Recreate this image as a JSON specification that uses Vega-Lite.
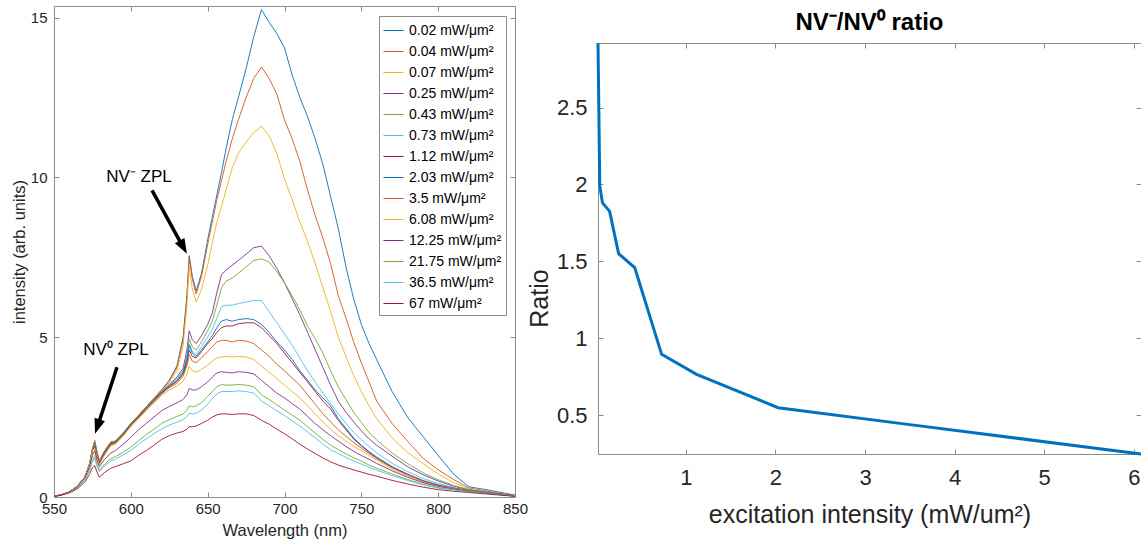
{
"$schema": "https://vega.github.io/schema/vega-lite/v6.json",
"background": "white",
"padding": {"left": 10, "top": 5, "right": 0, "bottom": 0},
"spacing": -2,
"config": {
 "font": "Liberation Sans",
 "view": {"stroke": "#8c8c8c", "strokeWidth": 1},
 "axis": {"grid": false, "domain": false, "domainColor": "#8c8c8c", "tickColor": "#8c8c8c", "tickSize": -5, "tickWidth": 1, "labelColor": "#262626", "titleColor": "#262626", "titleFontWeight": "normal", "labelFlush": false, "labelOverlap": false, "format": "~g"}
},
"hconcat": [
{
 "width": 461, "height": 491,
 "resolve": {"axis": {"x": "independent", "y": "independent"}},
 "layer": [
 {
  "data": {"values": [
{"w":550,"a":0.02,"b":0.02,"c":0.02,"d":0.02,"e":0.02,"f":0.02,"g":0.02,"h":0.02,"i":0.02,"j":0.02,"k":0.02,"l":0.02,"m":0.02,"n":0.02},
{"w":555,"a":0.07,"b":0.07,"c":0.07,"d":0.07,"e":0.07,"f":0.07,"g":0.07,"h":0.07,"i":0.07,"j":0.07,"k":0.07,"l":0.06,"m":0.06,"n":0.06},
{"w":560,"a":0.16,"b":0.16,"c":0.16,"d":0.16,"e":0.16,"f":0.16,"g":0.16,"h":0.16,"i":0.16,"j":0.16,"k":0.15,"l":0.14,"m":0.14,"n":0.13},
{"w":565,"a":0.33,"b":0.33,"c":0.33,"d":0.33,"e":0.33,"f":0.33,"g":0.33,"h":0.33,"i":0.33,"j":0.33,"k":0.31,"l":0.29,"m":0.28,"n":0.25},
{"w":570,"a":0.62,"b":0.62,"c":0.62,"d":0.62,"e":0.62,"f":0.62,"g":0.62,"h":0.62,"i":0.62,"j":0.62,"k":0.58,"l":0.54,"m":0.52,"n":0.46},
{"w":573,"a":1.0,"b":1.0,"c":1.0,"d":1.0,"e":1.0,"f":1.0,"g":1.0,"h":1.0,"i":1.0,"j":1.0,"k":0.93,"l":0.85,"m":0.82,"n":0.7},
{"w":575,"a":1.5,"b":1.5,"c":1.5,"d":1.45,"e":1.45,"f":1.45,"g":1.45,"h":1.45,"i":1.45,"j":1.45,"k":1.3,"l":1.15,"m":1.1,"n":0.92},
{"w":576.5,"a":1.76,"b":1.76,"c":1.74,"d":1.7,"e":1.66,"f":1.62,"g":1.6,"h":1.62,"i":1.58,"j":1.52,"k":1.45,"l":1.3,"m":1.2,"n":0.98},
{"w":578,"a":1.4,"b":1.4,"c":1.38,"d":1.35,"e":1.32,"f":1.3,"g":1.28,"h":1.3,"i":1.26,"j":1.22,"k":1.15,"l":1.02,"m":0.96,"n":0.78},
{"w":579.5,"a":1.13,"b":1.13,"c":1.12,"d":1.1,"e":1.08,"f":1.06,"g":1.05,"h":1.06,"i":1.03,"j":1.0,"k":0.95,"l":0.84,"m":0.79,"n":0.62},
{"w":583,"a":1.45,"b":1.45,"c":1.44,"d":1.42,"e":1.4,"f":1.38,"g":1.37,"h":1.38,"i":1.35,"j":1.32,"k":1.18,"l":1.03,"m":0.98,"n":0.77},
{"w":587,"a":1.72,"b":1.72,"c":1.7,"d":1.7,"e":1.68,"f":1.66,"g":1.65,"h":1.66,"i":1.63,"j":1.6,"k":1.38,"l":1.2,"m":1.13,"n":0.9},
{"w":590,"a":1.75,"b":1.75,"c":1.74,"d":1.73,"e":1.72,"f":1.7,"g":1.7,"h":1.7,"i":1.68,"j":1.65,"k":1.45,"l":1.26,"m":1.18,"n":0.95},
{"w":595,"a":2.0,"b":2.0,"c":1.98,"d":1.98,"e":1.97,"f":1.95,"g":1.95,"h":1.95,"i":1.93,"j":1.9,"k":1.65,"l":1.4,"m":1.32,"n":1.04},
{"w":600,"a":2.3,"b":2.3,"c":2.28,"d":2.28,"e":2.27,"f":2.26,"g":2.25,"h":2.25,"i":2.23,"j":2.2,"k":1.87,"l":1.56,"m":1.46,"n":1.13},
{"w":605,"a":2.55,"b":2.55,"c":2.53,"d":2.53,"e":2.52,"f":2.5,"g":2.5,"h":2.5,"i":2.48,"j":2.44,"k":2.1,"l":1.76,"m":1.65,"n":1.3},
{"w":610,"a":2.82,"b":2.82,"c":2.8,"d":2.8,"e":2.78,"f":2.77,"g":2.76,"h":2.76,"i":2.74,"j":2.7,"k":2.3,"l":1.95,"m":1.82,"n":1.45},
{"w":615,"a":3.08,"b":3.08,"c":3.06,"d":3.05,"e":3.04,"f":3.02,"g":3.01,"h":3.02,"i":2.98,"j":2.94,"k":2.5,"l":2.12,"m":1.98,"n":1.62},
{"w":620,"a":3.35,"b":3.35,"c":3.32,"d":3.3,"e":3.28,"f":3.26,"g":3.25,"h":3.26,"i":3.22,"j":3.17,"k":2.7,"l":2.3,"m":2.13,"n":1.8},
{"w":625,"a":3.65,"b":3.63,"c":3.58,"d":3.52,"e":3.5,"f":3.47,"g":3.45,"h":3.47,"i":3.42,"j":3.35,"k":2.83,"l":2.42,"m":2.25,"n":1.92},
{"w":630,"a":4.1,"b":4.05,"c":3.95,"d":3.75,"e":3.7,"f":3.66,"g":3.62,"h":3.63,"i":3.56,"j":3.47,"k":2.95,"l":2.52,"m":2.34,"n":2.0},
{"w":634,"a":5.0,"b":4.92,"c":4.72,"d":4.02,"e":3.95,"f":3.9,"g":3.84,"h":3.88,"i":3.78,"j":3.62,"k":3.05,"l":2.6,"m":2.42,"n":2.05},
{"w":636.5,"a":6.3,"b":6.25,"c":6.0,"d":4.6,"e":4.42,"f":4.32,"g":4.2,"h":4.3,"i":4.1,"j":3.85,"k":3.2,"l":2.72,"m":2.52,"n":2.12},
{"w":638,"a":7.55,"b":7.5,"c":7.2,"d":5.2,"e":4.95,"f":4.8,"g":4.6,"h":4.75,"i":4.45,"j":4.1,"k":3.4,"l":2.85,"m":2.62,"n":2.2},
{"w":640,"a":6.9,"b":6.82,"c":6.5,"d":4.92,"e":4.7,"f":4.56,"g":4.4,"h":4.5,"i":4.25,"j":3.95,"k":3.35,"l":2.82,"m":2.6,"n":2.2},
{"w":642.5,"a":6.45,"b":6.35,"c":6.1,"d":4.8,"e":4.6,"f":4.46,"g":4.35,"h":4.4,"i":4.2,"j":3.9,"k":3.35,"l":2.85,"m":2.62,"n":2.22},
{"w":646,"a":7.0,"b":6.9,"c":6.5,"d":5.05,"e":4.85,"f":4.7,"g":4.55,"h":4.6,"i":4.35,"j":4.0,"k":3.45,"l":2.95,"m":2.72,"n":2.3},
{"w":650,"a":8.05,"b":7.9,"c":7.25,"d":5.4,"e":5.2,"f":5.0,"g":4.8,"h":4.85,"i":4.55,"j":4.12,"k":3.6,"l":3.15,"m":2.9,"n":2.4},
{"w":653,"a":8.75,"b":8.6,"c":7.95,"d":5.75,"e":5.5,"f":5.25,"g":4.95,"h":5.05,"i":4.7,"j":4.25,"k":3.75,"l":3.3,"m":3.08,"n":2.5},
{"w":656,"a":9.45,"b":9.3,"c":8.6,"d":6.4,"e":6.0,"f":5.6,"g":5.15,"h":5.3,"i":4.85,"j":4.35,"k":3.88,"l":3.45,"m":3.22,"n":2.57},
{"w":659,"a":10.15,"b":9.9,"c":9.1,"d":6.95,"e":6.55,"f":5.95,"g":5.3,"h":5.5,"i":4.9,"j":4.38,"k":3.92,"l":3.52,"m":3.3,"n":2.6},
{"w":662,"a":10.9,"b":10.5,"c":9.6,"d":7.1,"e":6.75,"f":6.0,"g":5.35,"h":5.55,"i":4.9,"j":4.4,"k":3.9,"l":3.5,"m":3.3,"n":2.6},
{"w":666,"a":11.8,"b":11.2,"c":10.3,"d":7.25,"e":6.85,"f":6.0,"g":5.35,"h":5.5,"i":4.85,"j":4.38,"k":3.88,"l":3.5,"m":3.3,"n":2.58},
{"w":670,"a":12.5,"b":11.8,"c":10.75,"d":7.4,"e":7.0,"f":6.05,"g":5.42,"h":5.55,"i":4.9,"j":4.4,"k":3.92,"l":3.52,"m":3.32,"n":2.6},
{"w":675,"a":13.4,"b":12.5,"c":11.1,"d":7.6,"e":7.2,"f":6.1,"g":5.45,"h":5.58,"i":4.88,"j":4.38,"k":3.9,"l":3.5,"m":3.3,"n":2.6},
{"w":680,"a":14.4,"b":13.1,"c":11.4,"d":7.8,"e":7.4,"f":6.15,"g":5.45,"h":5.55,"i":4.8,"j":4.3,"k":3.85,"l":3.45,"m":3.25,"n":2.55},
{"w":685,"a":15.25,"b":13.45,"c":11.6,"d":7.85,"e":7.45,"f":6.15,"g":5.3,"h":5.4,"i":4.6,"j":4.1,"k":3.65,"l":3.2,"m":3.0,"n":2.4},
{"w":690,"a":14.85,"b":13.1,"c":11.3,"d":7.55,"e":7.35,"f":5.8,"g":5.05,"h":5.15,"i":4.4,"j":3.9,"k":3.45,"l":3.05,"m":2.85,"n":2.28},
{"w":695,"a":14.5,"b":12.6,"c":10.75,"d":7.15,"e":7.05,"f":5.45,"g":4.8,"h":4.85,"i":4.15,"j":3.7,"k":3.25,"l":2.88,"m":2.7,"n":2.12},
{"w":700,"a":14.05,"b":11.8,"c":9.95,"d":6.7,"e":6.7,"f":5.1,"g":4.5,"h":4.6,"i":3.95,"j":3.5,"k":3.1,"l":2.72,"m":2.55,"n":1.98},
{"w":705,"a":13.2,"b":11.2,"c":9.3,"d":6.2,"e":6.3,"f":4.75,"g":4.2,"h":4.3,"i":3.72,"j":3.3,"k":2.92,"l":2.56,"m":2.38,"n":1.82},
{"w":710,"a":12.5,"b":10.5,"c":8.6,"d":5.7,"e":5.85,"f":4.35,"g":3.9,"h":3.95,"i":3.5,"j":3.1,"k":2.75,"l":2.4,"m":2.22,"n":1.65},
{"w":715,"a":11.9,"b":9.6,"c":8.0,"d":5.15,"e":5.35,"f":3.95,"g":3.6,"h":3.65,"i":3.2,"j":2.85,"k":2.52,"l":2.2,"m":2.03,"n":1.5},
{"w":720,"a":11.2,"b":8.8,"c":7.3,"d":4.6,"e":4.95,"f":3.6,"g":3.3,"h":3.35,"i":2.9,"j":2.6,"k":2.3,"l":2.0,"m":1.85,"n":1.36},
{"w":725,"a":10.4,"b":8.1,"c":6.55,"d":4.05,"e":4.5,"f":3.25,"g":3.0,"h":3.1,"i":2.6,"j":2.35,"k":2.1,"l":1.8,"m":1.65,"n":1.22},
{"w":730,"a":9.4,"b":7.3,"c":5.8,"d":3.5,"e":3.95,"f":2.92,"g":2.75,"h":2.85,"i":2.35,"j":2.12,"k":1.92,"l":1.62,"m":1.48,"n":1.1},
{"w":735,"a":8.4,"b":6.3,"c":5.0,"d":3.0,"e":3.45,"f":2.6,"g":2.4,"h":2.45,"i":2.1,"j":1.92,"k":1.75,"l":1.48,"m":1.36,"n":1.0},
{"w":740,"a":7.2,"b":5.6,"c":4.4,"d":2.65,"e":3.05,"f":2.3,"g":2.1,"h":2.15,"i":1.9,"j":1.75,"k":1.58,"l":1.35,"m":1.24,"n":0.92},
{"w":745,"a":6.2,"b":4.85,"c":3.8,"d":2.35,"e":2.65,"f":2.02,"g":1.82,"h":1.85,"i":1.7,"j":1.58,"k":1.43,"l":1.23,"m":1.13,"n":0.85},
{"w":750,"a":5.4,"b":4.2,"c":3.3,"d":2.07,"e":2.33,"f":1.8,"g":1.6,"h":1.62,"i":1.53,"j":1.45,"k":1.3,"l":1.12,"m":1.03,"n":0.78},
{"w":755,"a":4.8,"b":3.6,"c":2.85,"d":1.82,"e":2.02,"f":1.58,"g":1.4,"h":1.42,"i":1.36,"j":1.3,"k":1.18,"l":1.0,"m":0.93,"n":0.71},
{"w":760,"a":4.3,"b":3.0,"c":2.45,"d":1.62,"e":1.78,"f":1.38,"g":1.22,"h":1.25,"i":1.2,"j":1.15,"k":1.05,"l":0.9,"m":0.84,"n":0.65},
{"w":770,"a":3.3,"b":2.3,"c":1.85,"d":1.28,"e":1.38,"f":1.05,"g":0.93,"h":0.95,"i":0.92,"j":0.88,"k":0.82,"l":0.72,"m":0.67,"n":0.52},
{"w":780,"a":2.5,"b":1.75,"c":1.4,"d":0.95,"e":1.05,"f":0.8,"g":0.7,"h":0.72,"i":0.7,"j":0.66,"k":0.62,"l":0.55,"m":0.52,"n":0.41},
{"w":790,"a":1.9,"b":1.22,"c":1.05,"d":0.7,"e":0.76,"f":0.58,"g":0.5,"h":0.52,"i":0.5,"j":0.47,"k":0.45,"l":0.4,"m":0.38,"n":0.31},
{"w":800,"a":1.3,"b":0.85,"c":0.72,"d":0.5,"e":0.54,"f":0.42,"g":0.36,"h":0.38,"i":0.36,"j":0.34,"k":0.33,"l":0.29,"m":0.28,"n":0.23},
{"w":810,"a":0.72,"b":0.55,"c":0.45,"d":0.34,"e":0.36,"f":0.3,"g":0.27,"h":0.28,"i":0.27,"j":0.26,"k":0.25,"l":0.23,"m":0.22,"n":0.18},
{"w":820,"a":0.32,"b":0.28,"c":0.25,"d":0.22,"e":0.23,"f":0.2,"g":0.19,"h":0.2,"i":0.19,"j":0.18,"k":0.18,"l":0.17,"m":0.16,"n":0.14},
{"w":830,"a":0.24,"b":0.2,"c":0.18,"d":0.16,"e":0.17,"f":0.15,"g":0.14,"h":0.15,"i":0.14,"j":0.13,"k":0.13,"l":0.12,"m":0.12,"n":0.1},
{"w":840,"a":0.15,"b":0.12,"c":0.11,"d":0.1,"e":0.1,"f":0.09,"g":0.09,"h":0.09,"i":0.08,"j":0.08,"k":0.08,"l":0.07,"m":0.07,"n":0.06},
{"w":850,"a":0.06,"b":0.05,"c":0.05,"d":0.04,"e":0.04,"f":0.04,"g":0.04,"h":0.04,"i":0.03,"j":0.03,"k":0.03,"l":0.03,"m":0.03,"n":0.02}
  ]},
  "transform": [
   {"fold": ["a","b","c","d","e","f","g","h","i","j","k","l","m","n"], "as": ["key","v"]},
   {"lookup": "key", "from": {"data": {"values": [
     {"key":"a","label":"0.02 mW/μm²"},{"key":"b","label":"0.04 mW/μm²"},{"key":"c","label":"0.07 mW/μm²"},
     {"key":"d","label":"0.25 mW/μm²"},{"key":"e","label":"0.43 mW/μm²"},{"key":"f","label":"0.73 mW/μm²"},
     {"key":"g","label":"1.12 mW/μm²"},{"key":"h","label":"2.03 mW/μm²"},{"key":"i","label":"3.5 mW/μm²"},
     {"key":"j","label":"6.08 mW/μm²"},{"key":"k","label":"12.25 mW/μm²"},{"key":"l","label":"21.75 mW/μm²"},
     {"key":"m","label":"36.5 mW/μm²"},{"key":"n","label":"67 mW/μm²"}]}, "key": "key", "fields": ["label"]}}
  ],
  "mark": {"type": "line", "strokeWidth": 0.9, "clip": true},
  "encoding": {
   "x": {"field": "w", "type": "quantitative", "scale": {"domain": [550, 850], "nice": false, "zero": false},
         "axis": {"orient": "bottom", "values": [550,600,650,700,750,800,850], "format": "d", "labelFontSize": 15, "labelPadding": 9, "title": "Wavelength (nm)", "titleFontSize": 16.5, "titlePadding": 6}},
   "y": {"field": "v", "type": "quantitative", "scale": {"domain": [0, 15.36], "nice": false},
         "axis": {"orient": "left", "values": [0,5,10,15], "format": "d", "labelFontSize": 15, "labelPadding": 12, "title": "intensity (arb. units)", "titleFontSize": 16.5, "titlePadding": 3}},
   "color": {"field": "label", "type": "nominal",
     "scale": {"domain": ["0.02 mW/μm²","0.04 mW/μm²","0.07 mW/μm²","0.25 mW/μm²","0.43 mW/μm²","0.73 mW/μm²","1.12 mW/μm²","2.03 mW/μm²","3.5 mW/μm²","6.08 mW/μm²","12.25 mW/μm²","21.75 mW/μm²","36.5 mW/μm²","67 mW/μm²"],
               "range": ["#0072BD","#D95319","#EDB120","#7E2F8E","#77AC30","#4DBEEE","#A2142F","#0072BD","#D95319","#EDB120","#7E2F8E","#77AC30","#4DBEEE","#A2142F"]},
     "legend": {"orient": "none", "legendX": 325, "legendY": 10, "title": null, "labelFontSize": 14, "labelColor": "black", "symbolType": "stroke", "symbolSize": 400, "symbolStrokeWidth": 1, "rowPadding": 3, "padding": 4, "strokeColor": "#8c8c8c", "fillColor": "white", "labelOffset": 5}}
  }
 },
 {
  "data": {"values": [{"w": 613.8, "v": 9.59, "w2": 633.3, "v2": 7.88}, {"w": 591.0, "v": 4.06, "w2": 578.8, "v2": 2.28}]},
  "mark": {"type": "rule", "color": "black", "strokeWidth": 3.5},
  "encoding": {
   "x": {"field": "w", "type": "quantitative", "scale": {"domain": [550, 850], "nice": false, "zero": false}, "axis": null},
   "y": {"field": "v", "type": "quantitative", "scale": {"domain": [0, 15.36], "nice": false}, "axis": null},
   "x2": {"field": "w2"}, "y2": {"field": "v2"}
  }
 },
 {
  "data": {"values": [{"w": 636.5, "v": 7.61}]},
  "mark": {"type": "point", "shape": "M0,0 L-0.55,-1.5 L0.55,-1.5 Z", "filled": true, "color": "black", "opacity": 1, "size": 400, "angle": -29, "strokeWidth": 0},
  "encoding": {
   "x": {"field": "w", "type": "quantitative", "scale": {"domain": [550, 850], "nice": false, "zero": false}, "axis": null},
   "y": {"field": "v", "type": "quantitative", "scale": {"domain": [0, 15.36], "nice": false}, "axis": null}
  }
 },
 {
  "data": {"values": [{"w": 576.7, "v": 1.98}]},
  "mark": {"type": "point", "shape": "M0,0 L-0.55,-1.5 L0.55,-1.5 Z", "filled": true, "color": "black", "opacity": 1, "size": 400, "angle": 18.4, "strokeWidth": 0},
  "encoding": {
   "x": {"field": "w", "type": "quantitative", "scale": {"domain": [550, 850], "nice": false, "zero": false}, "axis": null},
   "y": {"field": "v", "type": "quantitative", "scale": {"domain": [0, 15.36], "nice": false}, "axis": null}
  }
 },
 {
  "data": {"values": [{"w": 605.3, "v": 10.0, "t": "NV⁻ ZPL"}, {"w": 590.3, "v": 4.59, "t": "NV⁰ ZPL"}]},
  "mark": {"type": "text", "fontSize": 17, "color": "black", "align": "center", "baseline": "middle"},
  "encoding": {
   "x": {"field": "w", "type": "quantitative", "scale": {"domain": [550, 850], "nice": false, "zero": false}, "axis": null},
   "y": {"field": "v", "type": "quantitative", "scale": {"domain": [0, 15.36], "nice": false}, "axis": null},
   "text": {"field": "t"}
  }
 },
 {
  "data": {"values": [{"w": 550, "v": 0}]},
  "mark": {"type": "point", "opacity": 0},
  "encoding": {
   "x": {"field": "w", "type": "quantitative", "scale": {"domain": [550, 850], "nice": false, "zero": false},
         "axis": {"orient": "top", "values": [550,600,650,700,750,800,850], "labels": false, "title": null}},
   "y": {"field": "v", "type": "quantitative", "scale": {"domain": [0, 15.36], "nice": false},
         "axis": {"orient": "right", "values": [0,5,10,15], "labels": false, "title": null}}
  }
 }
 ]
},
{
 "width": 543, "height": 448,
 "view": {"stroke": null},
 "resolve": {"axis": {"x": "independent", "y": "independent"}},
 "layer": [
 {
  "data": {"values": [
   {"x": 0.02, "r": 2.92}, {"x": 0.04, "r": 1.99}, {"x": 0.07, "r": 1.88}, {"x": 0.15, "r": 1.825},
   {"x": 0.25, "r": 1.55}, {"x": 0.43, "r": 1.46}, {"x": 0.73, "r": 0.895}, {"x": 1.12, "r": 0.765},
   {"x": 2.03, "r": 0.548}, {"x": 3.5, "r": 0.438}, {"x": 6.08, "r": 0.247}
  ]},
  "mark": {"type": "line", "color": "#0072BD", "strokeWidth": 3, "clip": false},
  "encoding": {
   "x": {"field": "x", "type": "quantitative", "scale": {"domain": [0.02, 6.08], "nice": false, "zero": false},
         "axis": {"orient": "bottom", "domain": true, "values": [1,2,3,4,5,6], "labelFontSize": 22, "labelPadding": 18, "title": "excitation intensity (mW/um²)", "titleFontSize": 25, "titlePadding": 14}},
   "y": {"field": "r", "type": "quantitative", "scale": {"domain": [0.247, 2.92], "range": [448, 37], "nice": false, "zero": false},
         "axis": {"orient": "left", "domain": true, "values": [0.5,1,1.5,2,2.5], "labelFontSize": 22, "labelPadding": 16, "title": "Ratio", "titleFontSize": 25, "titlePadding": 4, "titleY": 292}}
  }
 },
 {
  "data": {"values": [{"x": 3.05, "r": 3.05, "t": "NV⁻/NV⁰ ratio"}]},
  "mark": {"type": "text", "fontSize": 24, "fontWeight": "bold", "color": "black", "align": "center", "baseline": "middle"},
  "encoding": {
   "x": {"field": "x", "type": "quantitative", "scale": {"domain": [0.02, 6.08], "nice": false, "zero": false}, "axis": null},
   "y": {"field": "r", "type": "quantitative", "scale": {"domain": [0.247, 2.92], "range": [448, 37], "nice": false, "zero": false}, "axis": null},
   "text": {"field": "t"}
  }
 },
 {
  "data": {"values": [{"x": 1, "r": 1}]},
  "mark": {"type": "point", "opacity": 0},
  "encoding": {
   "x": {"field": "x", "type": "quantitative", "scale": {"domain": [0.02, 6.08], "nice": false, "zero": false},
         "axis": {"orient": "top", "offset": -37, "domain": true, "values": [1,2,3,4,5,6], "labels": false, "title": null}},
   "y": {"field": "r", "type": "quantitative", "scale": {"domain": [0.247, 2.92], "range": [448, 37], "nice": false, "zero": false},
         "axis": {"orient": "right", "domain": true, "values": [0.5,1,1.5,2,2.5], "labels": false, "title": null}}
  }
 }
 ]
}
]
}
